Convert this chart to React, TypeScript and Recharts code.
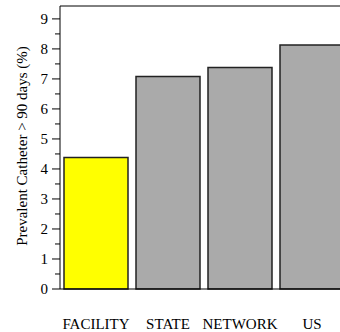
import { BarChart, Bar, XAxis, YAxis, Cell, ReferenceLine, Label } from "recharts";

const categories = ["FACILITY", "STATE", "NETWORK", "US"];
const catheterPct = [4.38, 7.08, 7.38, 8.13];
const barColors = ["#ffff00", "#aaaaaa", "#aaaaaa", "#aaaaaa"];
const yTicks = [0, 0.5, 1, 1.5, 2, 2.5, 3, 3.5, 4, 4.5, 5, 5.5, 6, 6.5, 7, 7.5, 8, 8.5, 9];
const yMax = 9.43;

const data = categories.map((name, i) => ({ name, value: catheterPct[i] }));

const textStyle = { fontFamily: "'Liberation Serif', 'Times New Roman', 'DejaVu Serif', serif", fontSize: 15 };

function YTick(props: any) {
  const { x, y, payload } = props;
  const major = Number.isInteger(payload.value);
  return (
    <g>
      <line x1={x - (major ? 8 : 5)} x2={x} y1={y} y2={y} stroke="#000" strokeWidth={1} />
      {major && (
        <text x={x - 12} y={y} textAnchor="end" dominantBaseline="central" style={textStyle} fill="#000">
          {payload.value}
        </text>
      )}
    </g>
  );
}

function XTick(props: any) {
  const { x, y, payload } = props;
  return (
    <text x={x} y={y + 40} textAnchor="middle" style={textStyle} fill="#000">
      {payload.value}
    </text>
  );
}

export default function App() {
  return (
    <div style={{ position: "absolute", left: 0, top: 0, width: 340, height: 332, overflow: "hidden", background: "#fff" }}>
      <BarChart width={348} height={332} data={data} margin={{ top: 6, right: 0, bottom: 0, left: 0 }}>
        <XAxis
          dataKey="name"
          height={43}
          tickSize={0}
          tickMargin={0}
          tickLine={false}
          axisLine={{ stroke: "#000", strokeWidth: 1 }}
          tick={<XTick />}
          interval={0}
        />
        <YAxis
          width={60}
          domain={[0, yMax]}
          ticks={yTicks}
          interval={0}
          tickSize={0}
          tickMargin={0}
          tickLine={false}
          axisLine={{ stroke: "#000", strokeWidth: 1 }}
          tick={<YTick />}
        >
          <Label
            content={() => (
              <text
                x={22}
                y={146}
                transform="rotate(-90 22 146)"
                textAnchor="middle"
                dominantBaseline="central"
                style={textStyle}
                fill="#000"
              >
                Prevalent Catheter &gt; 90 days (%)
              </text>
            )}
          />
        </YAxis>
        <ReferenceLine y={yMax} stroke="#000" strokeWidth={1} />
        <Bar dataKey="value" barSize={64} stroke="#222" strokeWidth={1.5} isAnimationActive={false}>
          {data.map((d, i) => (
            <Cell key={d.name} fill={barColors[i]} />
          ))}
        </Bar>
      </BarChart>
    </div>
  );
}
